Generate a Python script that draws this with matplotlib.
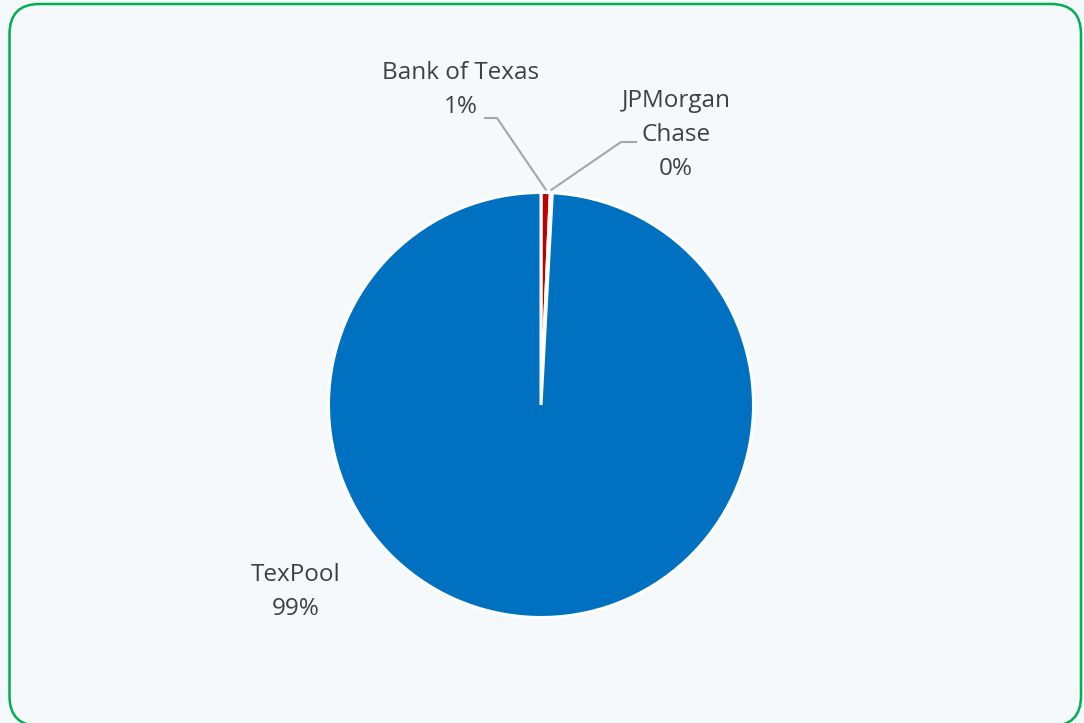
import numpy as np
import matplotlib.pyplot as plt
from matplotlib.patches import FancyBboxPatch

# Dados
categorias = ['Bank of Texas', 'JPMorgan\nChase', 'TexPool']
valores = [0.7, 0.15, 99.15]
cores = ['#C00000', '#0070C0', '#0070C0']

plt.rcParams['font.family'] = ['Open Sans', 'DejaVu Sans']

W, H = 1084, 723
fundo = '#F5F9FC'
fig = plt.figure(figsize=(W / 100, H / 100), dpi=100)
fig.patch.set_facecolor(fundo)

# Moldura arredondada verde
moldura = FancyBboxPatch((9.5, -3), 1071.5, H - 1, boxstyle='round,pad=0,rounding_size=30',
                         transform=None, facecolor=fundo, edgecolor='#00B050',
                         linewidth=1.8, zorder=-5)
fig.patches.append(moldura)

ax = fig.add_axes([0, 0, 1, 1])
ax.patch.set_visible(False)

cx, cy, r = 541, H - 405, 212.5
wedges, _ = ax.pie(valores, colors=cores, startangle=90, counterclock=False,
                   center=(cx, cy), radius=r, frame=True,
                   wedgeprops=dict(edgecolor='white', linewidth=2.2))
ax.set_xlim(0, W)
ax.set_ylim(0, H)
ax.set_aspect('equal')
ax.axis('off')

total = sum(valores)
rotulos = [f'{c}\n{round(v / total * 100):.0f}%' for c, v in zip(categorias, valores)]

cor_texto = '#404040'
cor_linha = '#A6A6A6'

# posicoes dos rotulos (pixels) e do cotovelo da linha
pos_texto = [(461, H - 90), (676, H - 135), (296, H - 592)]
cotovelos = [((485, H - 118), (497, H - 118)), ((636, H - 142), (621, H - 142)), None]

for w, txt, pos, cot in zip(wedges, rotulos, pos_texto, cotovelos):
    ax.text(pos[0], pos[1], txt, ha='center', va='center', fontsize=17.5,
            color=cor_texto, linespacing=1.55)
    if cot is not None:
        ang = np.deg2rad((w.theta1 + w.theta2) / 2)
        px = cx + (r + 3) * np.cos(ang)
        py = cy + (r + 3) * np.sin(ang)
        ax.plot([cot[0][0], cot[1][0], px], [cot[0][1], cot[1][1], py],
                color=cor_linha, linewidth=1.5)

fig.savefig('out.png', dpi=100, facecolor=fundo)
